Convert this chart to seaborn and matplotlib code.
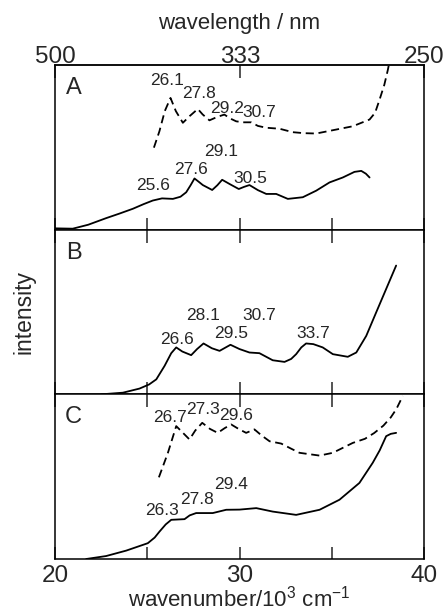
import numpy as np
import pandas as pd
import matplotlib
matplotlib.use("Agg")
import matplotlib.pyplot as plt
import seaborn as sns

# spectra: wavenumber (10^3 cm-1) and relative intensity (0-1 of panel height)
a_dash_wn = [25.36, 25.66, 25.95, 26.26, 26.55, 26.93, 27.3, 27.74, 28.0, 28.37, 28.8, 29.18,
             29.5, 29.82, 30.2, 30.63, 31.0, 31.45, 32.17, 32.89, 33.5, 34.16, 35.06, 36.14,
             37.05, 37.35, 37.59, 37.85, 38.04, 38.2]
a_dash_int = [0.498, 0.598, 0.72, 0.80, 0.72, 0.649, 0.69, 0.733, 0.70, 0.664, 0.685, 0.699,
              0.675, 0.658, 0.652, 0.652, 0.63, 0.619, 0.613, 0.592, 0.586, 0.584, 0.604, 0.628,
              0.669, 0.71, 0.789, 0.88, 0.97, 1.06]

a_solid_wn = [20.0, 20.96, 21.8, 22.77, 23.5, 24.22, 24.8, 25.3, 25.8, 26.39, 26.8, 27.11,
              27.35, 27.56, 27.8, 28.01, 28.52, 28.8, 29.06, 29.5, 29.96, 30.25, 30.54, 31.0,
              31.45, 31.99, 32.62, 33.43, 34.16, 34.88, 35.6, 36.23, 36.6, 36.85, 37.05]
a_solid_int = [0.008, 0.006, 0.03, 0.07, 0.098, 0.127, 0.155, 0.177, 0.19, 0.187, 0.20, 0.227,
               0.27, 0.311, 0.29, 0.271, 0.241, 0.27, 0.303, 0.275, 0.247, 0.26, 0.271, 0.24,
               0.217, 0.217, 0.187, 0.197, 0.237, 0.287, 0.317, 0.351, 0.357, 0.34, 0.317]

b_solid_wn = [22.5, 23.68, 24.58, 25.1, 25.49, 25.94, 26.3, 26.57, 26.9, 27.38, 27.7, 28.05,
              28.5, 28.92, 29.51, 30.0, 30.54, 31.08, 31.8, 32.44, 32.8, 33.07, 33.35, 33.61,
              34.0, 34.51, 35.06, 35.87, 36.33, 36.87, 37.41, 37.95, 38.49]
b_solid_int = [0.0, 0.01, 0.035, 0.06, 0.091, 0.173, 0.25, 0.285, 0.26, 0.238, 0.275, 0.309,
               0.28, 0.264, 0.301, 0.275, 0.254, 0.25, 0.207, 0.197, 0.215, 0.244, 0.285, 0.309,
               0.305, 0.285, 0.244, 0.228, 0.254, 0.355, 0.498, 0.64, 0.782]

c_dash_wn = [25.63, 26.12, 26.57, 26.9, 27.29, 27.6, 27.98, 28.4, 28.82, 29.2, 29.55, 29.95,
             30.36, 30.81, 31.2, 31.63, 32.26, 32.8, 33.25, 34.34, 35.06, 36.14, 36.8, 37.3,
             37.8, 38.2, 38.5, 38.85]
c_dash_int = [0.496, 0.645, 0.807, 0.77, 0.726, 0.78, 0.827, 0.79, 0.766, 0.795, 0.817, 0.79,
              0.766, 0.787, 0.75, 0.715, 0.701, 0.67, 0.645, 0.628, 0.645, 0.705, 0.73, 0.765,
              0.81, 0.86, 0.91, 0.99]

c_solid_wn = [21.69, 22.77, 23.86, 25.03, 25.4, 25.66, 26.0, 26.3, 27.02, 27.3, 27.65, 28.55,
              29.28, 30.0, 30.91, 31.8, 33.07, 34.34, 35.42, 36.5, 37.22, 37.6, 37.95, 38.2, 38.49]
c_solid_int = [0.0, 0.018, 0.051, 0.096, 0.13, 0.166, 0.21, 0.238, 0.242, 0.265, 0.279, 0.279,
               0.299, 0.30, 0.309, 0.288, 0.268, 0.299, 0.36, 0.462, 0.584, 0.66, 0.746, 0.76, 0.766]

# peak labels: text, wavenumber position, height position
a_labels = ["26.1", "27.8", "29.2", "30.7", "29.1", "27.6", "30.5", "25.6"]
a_lab_x = [26.08, 27.79, 29.33, 31.08, 29.01, 27.38, 30.6, 25.34]
a_lab_y = [0.905, 0.829, 0.733, 0.709, 0.472, 0.363, 0.311, 0.267]

b_labels = ["28.1", "30.7", "29.5", "26.6", "33.7"]
b_lab_x = [28.01, 31.08, 29.55, 26.6, 33.97]
b_lab_y = [0.477, 0.477, 0.372, 0.331, 0.372]

c_labels = ["26.7", "27.3", "29.6", "29.4", "27.8", "26.3"]
c_lab_x = [26.21, 28.01, 29.82, 29.55, 27.69, 25.81]
c_lab_y = [0.858, 0.909, 0.872, 0.451, 0.364, 0.295]

wavelength_ticks = [500, 333, 250]
wavenumber_ticks = [20, 25, 30, 35, 40]
wavenumber_labels = ["20", "", "30", "", "40"]

sns.set_style("ticks")
plt.rcParams['font.family'] = ['Liberation Sans', 'DejaVu Sans']
plt.rcParams['mathtext.fontset'] = 'custom'
plt.rcParams['mathtext.rm'] = 'Liberation Sans'
plt.rcParams['axes.linewidth'] = 1.1

fig, axes = plt.subplots(3, 1, sharex=True, figsize=(4.48, 6.11), dpi=100)
fig.subplots_adjust(left=0.1228, right=0.9464, top=0.8936, bottom=0.0851, hspace=0)

panels = [
    ("A", [(a_dash_wn, a_dash_int, True), (a_solid_wn, a_solid_int, False)], a_labels, a_lab_x, a_lab_y),
    ("B", [(b_solid_wn, b_solid_int, False)], b_labels, b_lab_x, b_lab_y),
    ("C", [(c_dash_wn, c_dash_int, True), (c_solid_wn, c_solid_int, False)], c_labels, c_lab_x, c_lab_y),
]

for ax, (letter, curves, labs, lx, ly) in zip(axes, panels):
    for wn, inten, dashed in curves:
        df = pd.DataFrame({"wn": wn, "int": inten})
        ls = (0, (4.5, 2.6)) if dashed else "-"
        sns.lineplot(data=df, x="wn", y="int", ax=ax, color="black", sort=False,
                     estimator=None, linewidth=1.3, linestyle=ls)
    for t, x, y in zip(labs, lx, ly):
        ax.text(x, y, t, ha="center", va="center", fontsize=12.5)
    ax.text(21.0, 0.86, letter, ha="center", va="center", fontsize=17)
    ax.set_xlim(20, 40)
    ax.set_ylim(0, 1)
    ax.set_yticks([])
    ax.set_xlabel("")
    ax.set_ylabel("")
    ax.set_xticks(wavenumber_ticks)
    ax.tick_params(axis="x", direction="in", length=9, width=1.1, top=True, bottom=True,
                   labelsize=17.5, pad=4)
    for sp in ax.spines.values():
        sp.set_visible(True)
        sp.set_color("black")

axes[0].tick_params(axis="x", top=False)
axes[2].set_xticklabels(wavenumber_labels)
axes[2].set_xlabel("wavenumber/10$^3$ cm$^{-1}$", fontsize=16, labelpad=-1)


def wn_to_nm(x):
    x = np.asarray(x, dtype=float)
    with np.errstate(divide="ignore"):
        return 1e4 / x


top = axes[0].secondary_xaxis("top", functions=(wn_to_nm, wn_to_nm))
top.set_xticks(wavelength_ticks)
top.set_xticklabels([str(v) for v in wavelength_ticks])
top.tick_params(direction="in", length=9, width=1.1, labelsize=17.5, pad=-2)
top.set_xlabel("wavelength / nm", fontsize=16, labelpad=12)

fig.text(0.054, 0.49, "intensity", rotation=90, ha="center", va="center", fontsize=16.5)

fig.savefig("out.png", dpi=100)
